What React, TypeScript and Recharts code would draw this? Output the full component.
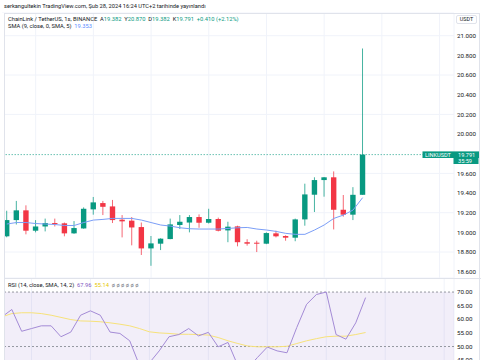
import React from "react";
import {
  ComposedChart,
  Bar,
  Line,
  XAxis,
  YAxis,
  CartesianGrid,
  ReferenceLine,
  ReferenceArea,
} from "recharts";

// LINKUSDT 1s candles
const opens = [
  18.96, 19.125, 19.224, 19.017, 19.06, 19.095, 19.092, 18.99, 19.04, 19.234,
  19.298, 19.264, 19.129, 19.119, 19.054, 18.837, 18.885, 18.932, 19.075, 19.1,
  19.156, 19.098, 19.136, 19.02, 19.061, 18.9, 18.895, 18.885, 18.99, 18.963,
  18.946, 19.132, 19.383, 19.532, 19.56, 19.23, 19.18, 19.382,
];
const highs = [
  19.22, 19.32, 19.275, 19.125, 19.14, 19.14, 19.1, 19.115, 19.254, 19.36,
  19.32, 19.33, 19.176, 19.156, 19.1, 18.963, 18.94, 19.14, 19.176, 19.176,
  19.183, 19.24, 19.15, 19.108, 19.068, 18.93, 18.915, 19.0, 19.017, 18.97,
  19.14, 19.495, 19.56, 19.563, 19.62, 19.38, 19.46, 20.87,
];
const lows = [
  18.95, 19.08, 18.98, 19.0, 19.01, 19.06, 18.96, 18.985, 19.037, 19.18,
  19.176, 19.095, 18.949, 18.868, 18.77, 18.66, 18.82, 18.93, 19.034, 19.0,
  19.047, 19.09, 19.01, 18.9, 18.858, 18.865, 18.8, 18.88, 18.949, 18.915,
  18.91, 19.068, 19.207, 19.363, 19.03, 19.16, 19.125, 19.382,
];
const closes = [
  19.125, 19.224, 19.017, 19.06, 19.095, 19.085, 18.99, 19.044, 19.24, 19.305,
  19.26, 19.125, 19.112, 19.05, 18.837, 18.888, 18.936, 19.081, 19.108, 19.156,
  19.098, 19.136, 19.017, 19.058, 18.9, 18.885, 18.888, 18.993, 18.96, 18.946,
  19.132, 19.386, 19.532, 19.56, 19.23, 19.18, 19.382, 19.791,
];
const smaValues = [
  19.085, 19.1, 19.1, 19.09, 19.085, 19.08, 19.07, 19.07, 19.1, 19.125,
  19.132, 19.142, 19.142, 19.142, 19.125, 19.1, 19.075, 19.064, 19.047, 19.037,
  19.034, 19.034, 19.034, 19.04, 19.047, 19.05, 19.034, 19.024, 19.01, 18.99,
  18.98, 18.98, 19.024, 19.075, 19.142, 19.176, 19.227, 19.353,
];
const rsiValues = [
  60.9, 63.6, 55.6, 56.6, 57.6, 57.6, 53.6, 55.3, 61.5, 63.1,
  61.5, 55.3, 54.8, 52.1, 43.0, 44.0, 48.4, 53.6, 54.4, 56.6,
  53.9, 55.2, 49.9, 51.5, 43.0, 42.0, 46.0, 49.8, 48.4, 47.7,
  57.0, 65.5, 69.1, 70.0, 54.4, 52.7, 58.7, 67.96,
];
const rsiMaValues = [
  60.9, 62.1, 62.4, 62.4, 62.1, 61.5, 60.7, 59.9, 59.4, 59.3,
  59.1, 58.7, 58.2, 57.6, 56.6, 55.4, 55.0, 54.8, 54.5, 54.5,
  54.4, 54.2, 53.3, 52.1, 51.1, 50.2, 49.9, 49.9, 49.9, 50.1,
  51.1, 52.1, 52.9, 53.6, 53.8, 53.8, 54.4, 55.14,
];

// 19.800 sits under the last-price tag, so it is not labelled
const priceTicks = [18.6, 18.8, 19.0, 19.2, 19.4, 19.6, 20.0, 20.2, 20.4, 20.6, 20.8, 21.0];
const rsiTicks = [45, 50, 55, 60, 65, 70];
const timeGridSlots = [3, 9, 15, 21, 27, 33, 39, 45];
const slotCount = 47;
const lastClose = 19.791;

const GREEN = "#089981";
const RED = "#f23645";
const FONT = "Roboto, 'Liberation Sans', sans-serif";

const data = Array.from({ length: slotCount }, (_, i) =>
  i < opens.length
    ? {
        i,
        open: opens[i],
        close: closes[i],
        high: highs[i],
        low: lows[i],
        range: [lows[i], highs[i]],
        sma: smaValues[i],
        rsi: rsiValues[i],
        rsiMa: rsiMaValues[i],
      }
    : { i }
);

function Candle(props: any) {
  const { x, y, width, height, payload } = props;
  if (!payload || payload.open == null) return null;
  const top = Math.min(y, y + height);
  const h = Math.abs(height);
  const ppu = h / (payload.high - payload.low);
  const yo = top + (payload.high - payload.open) * ppu;
  const yc = top + (payload.high - payload.close) * ppu;
  const color = payload.close >= payload.open ? GREEN : RED;
  const cx = x + width / 2;
  return (
    <g>
      <line x1={cx} x2={cx} y1={top} y2={top + h} stroke={color} strokeOpacity={0.75} strokeWidth={1} />
      <rect x={x} y={Math.min(yo, yc)} width={width} height={Math.max(Math.abs(yc - yo), 1)} fill={color} />
    </g>
  );
}

function PriceTag(props: any) {
  const vb = props.viewBox || {};
  const right = vb.x + vb.width;
  const y = vb.y;
  return (
    <g fontFamily={FONT} fontSize={5.6} fill="#fff">
      <rect x={right - 31.5} y={y - 3.2} width={56.5} height={6.6} fill={GREEN} />
      <rect x={right - 0.5} y={y + 3.4} width={25} height={6} fill={GREEN} />
      <text x={right - 29} y={y + 2}>LINKUSDT</text>
      <text x={right + 4} y={y + 2}>19.791</text>
      <text x={right + 4} y={y + 8.2}>35:59</text>
    </g>
  );
}

const tickStyle = { fontSize: 6.2, fill: "#131722", fontFamily: FONT };

export default function App() {
  return (
    <div style={{ position: "absolute", left: 0, top: 0, width: 485, height: 360, overflow: "hidden", background: "#fff", fontFamily: FONT }}>
      <div style={{ position: "absolute", left: 4, top: 3, fontSize: 5.7, color: "#131722", whiteSpace: "nowrap" }}>
        serkangultekin TradingView.com, Şub 28, 2024 16:24 UTC+2 tarihinde yayınlandı
      </div>

      <div style={{ position: "absolute", left: 0, top: 0 }}>
        <ComposedChart width={485} height={278} data={data} margin={{ top: 13, right: 0, bottom: 0, left: 2 }}>
          <CartesianGrid stroke="#f0f3fa" strokeWidth={1} />
          <XAxis dataKey="i" type="category" ticks={timeGridSlots} hide />
          <YAxis
            orientation="right"
            width={31}
            domain={[18.536, 21.231]}
            ticks={priceTicks}
            allowDataOverflow
            axisLine={false}
            tickLine={false}
            tickSize={1}
            tickMargin={2}
            tick={{ ...tickStyle, textAnchor: "start" }}
            tickFormatter={(v: number) => v.toFixed(3)}
          />
          <ReferenceLine y={lastClose} stroke={GREEN} strokeOpacity={0.6} strokeDasharray="1.5 1.5" label={(p: any) => <PriceTag {...p} />} />
          <Bar dataKey="range" barSize={5.4} shape={<Candle />} isAnimationActive={false} />
          <Line dataKey="sma" type="linear" stroke="#7b9ef7" strokeWidth={1} dot={false} isAnimationActive={false} />
        </ComposedChart>
      </div>

      <div style={{ position: "absolute", left: 0, top: 278 }}>
        <ComposedChart width={485} height={123} data={data} margin={{ top: 0, right: 0, bottom: 0, left: 2 }}>
          <CartesianGrid stroke="#f0f3fa" strokeWidth={1} horizontal={false} />
          <XAxis dataKey="i" type="category" ticks={timeGridSlots} hide />
          <YAxis
            orientation="right"
            width={31}
            domain={[30, 75.16]}
            ticks={rsiTicks}
            allowDataOverflow
            axisLine={false}
            tickLine={false}
            tickSize={1}
            tickMargin={2}
            tick={{ ...tickStyle, textAnchor: "start" }}
            tickFormatter={(v: number) => v.toFixed(2)}
          />
          <ReferenceArea y1={30} y2={70} fill="#7e57c2" fillOpacity={0.1} stroke="none" />
          <ReferenceLine y={70} stroke="#9598a1" strokeDasharray="2 2" />
          <ReferenceLine y={50} stroke="#9598a1" strokeDasharray="2 2" />
          <ReferenceLine y={30} stroke="#9598a1" strokeDasharray="2 2" />
          <Line dataKey="rsiMa" type="linear" stroke="#f7e27a" strokeWidth={1} dot={false} isAnimationActive={false} />
          <Line dataKey="rsi" type="linear" stroke="#a48bd6" strokeWidth={1} dot={false} isAnimationActive={false} />
        </ComposedChart>
      </div>

      {/* pane frame */}
      <div style={{ position: "absolute", left: 0, top: 13, width: 4, height: 347, background: "#fff" }} />
      <div style={{ position: "absolute", left: 4, top: 12.5, width: 476, height: 360, border: "1px solid #e0e3eb", boxSizing: "border-box" }} />
      <div style={{ position: "absolute", left: 4, top: 277.5, width: 477, height: 1, background: "#e0e3eb" }} />

      <div style={{ position: "absolute", left: 456, top: 15, width: 21, height: 9, border: "1px solid #e0e3eb", borderRadius: 2, boxSizing: "border-box", fontSize: 5.4, color: "#131722", textAlign: "center", lineHeight: "7px", background: "#fff" }}>
        USDT
      </div>

      <div style={{ position: "absolute", left: 8, top: 15.5, fontSize: 5.75, color: "#131722", whiteSpace: "nowrap" }}>
        ChainLink / TetherUS, 1s, BINANCE&nbsp;&nbsp;A<span style={{ color: GREEN }}>19.382</span>&nbsp;&nbsp;Y<span style={{ color: GREEN }}>20.870</span>&nbsp;&nbsp;D<span style={{ color: GREEN }}>19.382</span>&nbsp;&nbsp;K<span style={{ color: GREEN }}>19.791</span>&nbsp;&nbsp;<span style={{ color: GREEN }}>+0.410 (+2.12%)</span>
      </div>
      <div style={{ position: "absolute", left: 8, top: 23.3, fontSize: 5.75, color: "#131722", whiteSpace: "nowrap" }}>
        SMA (9, close, 0, SMA, 5)&nbsp;&nbsp;<span style={{ color: "#5b8cff" }}>19.353</span>
      </div>
      <div style={{ position: "absolute", left: 8, top: 282.3, fontSize: 5.75, color: "#131722", whiteSpace: "nowrap" }}>
        RSI (14, close, SMA, 14, 2)&nbsp;&nbsp;<span style={{ color: "#7e57c2" }}>67.96</span>&nbsp;&nbsp;<span style={{ color: "#e6c800" }}>55.14</span>&nbsp;&nbsp;<span style={{ color: "#787b86" }}>ø&nbsp;ø&nbsp;ø&nbsp;ø&nbsp;ø&nbsp;ø</span>
      </div>
    </div>
  );
}
